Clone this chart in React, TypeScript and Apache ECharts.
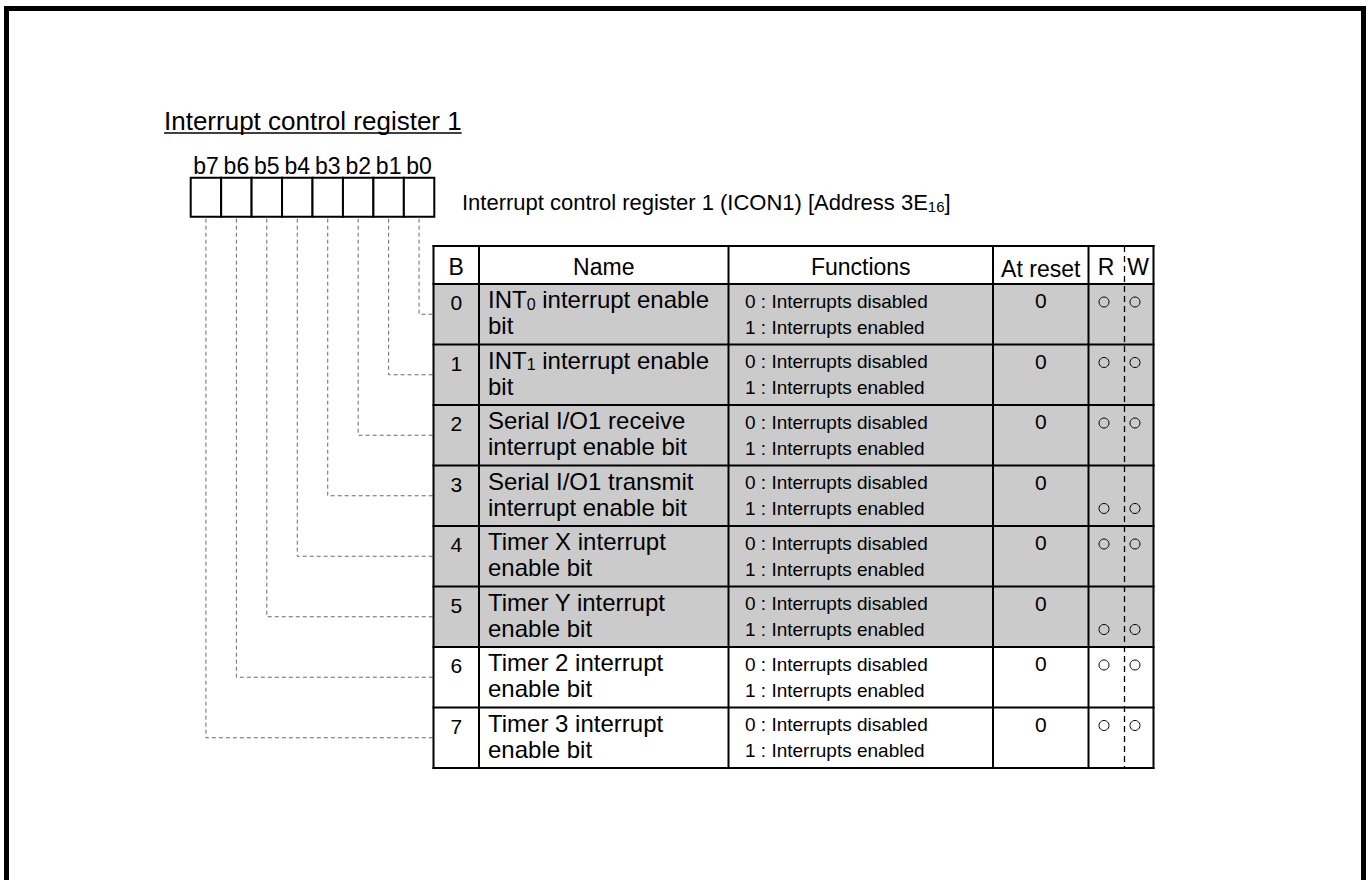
import React, { useEffect, useRef } from "react";
import * as echarts from "echarts";

// ---------- data ----------
const titleText = "Interrupt control register 1";
const registerCaption = "Interrupt control register 1 (ICON1) [Address 3E_{16}]";
const bitLabels = ["b7", "b6", "b5", "b4", "b3", "b2", "b1", "b0"];
const headerLabels = ["B", "Name", "Functions", "At reset", "R", "W"];
const rowBits = ["0", "1", "2", "3", "4", "5", "6", "7"];
const rowNameLine1 = [
  "INT_{0} interrupt enable",
  "INT_{1} interrupt enable",
  "Serial I/O1 receive",
  "Serial I/O1 transmit",
  "Timer X interrupt",
  "Timer Y interrupt",
  "Timer 2 interrupt",
  "Timer 3 interrupt",
];
const rowNameLine2 = [
  "bit",
  "bit",
  "interrupt enable bit",
  "interrupt enable bit",
  "enable bit",
  "enable bit",
  "enable bit",
  "enable bit",
];
const functionLine1 = [
  "0 : Interrupts disabled",
  "0 : Interrupts disabled",
  "0 : Interrupts disabled",
  "0 : Interrupts disabled",
  "0 : Interrupts disabled",
  "0 : Interrupts disabled",
  "0 : Interrupts disabled",
  "0 : Interrupts disabled",
];
const functionLine2 = [
  "1 : Interrupts enabled",
  "1 : Interrupts enabled",
  "1 : Interrupts enabled",
  "1 : Interrupts enabled",
  "1 : Interrupts enabled",
  "1 : Interrupts enabled",
  "1 : Interrupts enabled",
  "1 : Interrupts enabled",
];
const resetValues = ["0", "0", "0", "0", "0", "0", "0", "0"];
const readable = [true, true, true, true, true, true, true, true];
const writable = [true, true, true, true, true, true, true, true];
const shadedRows = [true, true, true, true, true, true, false, false];
const rwMarkLine = [1, 1, 1, 2, 1, 2, 1, 1];

// ---------- layout ----------
const FONT = "Arial, Liberation Sans, Helvetica, sans-serif";
const TITLE_X = 164;
const TITLE_BASE = 130;
const TITLE_FS = 26;
const BOX_LEFT = 190.7;
const BOX_TOP = 177.7;
const BOX_W = 30.45;
const BOX_H = 39;
const BIT_BASE = 174;
const BIT_FS = 23;
const CAP_X = 462;
const CAP_BASE = 210;
const CAP_FS = 22;
const COLS = [433.5, 479, 728.5, 993, 1088.5, 1153.5];
const RW_DIV = 1124.5;
const T_TOP = 246;
const H_BOTTOM = 284;
const ROW_H = 60.5;
const HEAD_FS = 23;
const NAME_FS = 24;
const FUNC_FS = 19;
const DIGIT_FS = 21;
const SHADE = "#cbcbcb";

let measureCtx: CanvasRenderingContext2D | null = null;
function measure(text: string, fs: number) {
  if (!measureCtx) measureCtx = document.createElement("canvas").getContext("2d");
  measureCtx!.font = `${fs}px ${FONT}`;
  return measureCtx!.measureText(text).width;
}

function parseSegs(s: string) {
  const out: { t: string; sub: boolean }[] = [];
  const re = /_\{([^}]*)\}/g;
  let last = 0;
  let m: RegExpExecArray | null;
  while ((m = re.exec(s))) {
    if (m.index > last) out.push({ t: s.slice(last, m.index), sub: false });
    out.push({ t: m[1], sub: true });
    last = re.lastIndex;
  }
  if (last < s.length) out.push({ t: s.slice(last), sub: false });
  return out;
}

function textLine(
  els: any[],
  s: string,
  x: number,
  baseline: number,
  fs: number,
  align: "left" | "center",
  scaleX = 1
) {
  const segs = parseSegs(s);
  const subFs = Math.round(fs * 0.66);
  const widths = segs.map((g) => measure(g.t, g.sub ? subFs : fs) * scaleX);
  const total = widths.reduce((a, b) => a + b, 0);
  let cx = align === "center" ? x - total / 2 : x;
  segs.forEach((g, i) => {
    const f = g.sub ? subFs : fs;
    const b = g.sub ? baseline + fs * 0.07 : baseline;
    els.push({
      type: "text",
      x: cx,
      y: b - 0.3465 * f,
      scaleX,
      silent: true,
      style: {
        text: g.t,
        fontSize: f,
        fontFamily: FONT,
        fill: "#000",
        textAlign: "left",
        align: "left",
        textVerticalAlign: "middle",
        verticalAlign: "middle",
      },
    });
    cx += widths[i];
  });
  return total;
}

function buildGraphics() {
  const els: any[] = [];
  // outer frame
  els.push({
    type: "rect",
    shape: { x: 6.5, y: 8.5, width: 1357, height: 1000 },
    style: { fill: "none", stroke: "#000", lineWidth: 5 },
    silent: true,
  });
  // title + underline
  const tw = textLine(els, titleText, TITLE_X, TITLE_BASE, TITLE_FS, "left");
  els.push({
    type: "line",
    shape: { x1: TITLE_X, y1: TITLE_BASE + 3, x2: TITLE_X + tw, y2: TITLE_BASE + 3 },
    style: { stroke: "#000", lineWidth: 1.5 },
    silent: true,
  });
  // bit boxes + labels
  bitLabels.forEach((lab, k) => {
    const x = BOX_LEFT + k * BOX_W;
    textLine(els, lab, x + BOX_W / 2, BIT_BASE, BIT_FS, "center");
    els.push({
      type: "rect",
      shape: { x, y: BOX_TOP, width: BOX_W, height: BOX_H },
      style: { fill: "#fff", stroke: "#000", lineWidth: 2 },
      silent: true,
    });
  });
  // caption
  textLine(els, registerCaption, CAP_X, CAP_BASE, CAP_FS, "left");

  const rowTop = (i: number) => H_BOTTOM + ROW_H * i;
  const tBottom = rowTop(rowBits.length);

  // leader lines
  bitLabels.forEach((lab, k) => {
    const bit = parseInt(lab.slice(1), 10);
    const x = BOX_LEFT + k * BOX_W + BOX_W / 2;
    const y = rowTop(bit) + ROW_H / 2;
    els.push({
      type: "polyline",
      shape: { points: [[x, BOX_TOP + BOX_H + 2], [x, y], [COLS[0], y]] },
      style: { fill: "none", stroke: "#6a6a6a", lineWidth: 1, lineDash: [4, 3] },
      silent: true,
    });
  });

  // row fills
  rowBits.forEach((_, i) => {
    if (shadedRows[i]) {
      els.push({
        type: "rect",
        shape: { x: COLS[0], y: rowTop(i), width: COLS[COLS.length - 1] - COLS[0], height: ROW_H },
        style: { fill: SHADE },
        silent: true,
      });
    }
  });

  // grid lines
  const hl = [T_TOP, H_BOTTOM];
  for (let i = 1; i <= rowBits.length; i++) hl.push(rowTop(i));
  hl.forEach((y) =>
    els.push({
      type: "line",
      shape: { x1: COLS[0] - 1, y1: y, x2: COLS[COLS.length - 1] + 1, y2: y },
      style: { stroke: "#000", lineWidth: 2 },
      silent: true,
    })
  );
  COLS.forEach((x) =>
    els.push({
      type: "line",
      shape: { x1: x, y1: T_TOP - 1, x2: x, y2: tBottom + 1 },
      style: { stroke: "#000", lineWidth: 2 },
      silent: true,
    })
  );
  els.push({
    type: "line",
    shape: { x1: RW_DIV, y1: T_TOP, x2: RW_DIV, y2: tBottom },
    style: { stroke: "#000", lineWidth: 1.3, lineDash: [6, 4] },
    silent: true,
  });

  // header
  const headBase = T_TOP + 29;
  const headCenters = [
    (COLS[0] + COLS[1]) / 2,
    (COLS[1] + COLS[2]) / 2,
    (COLS[2] + COLS[3]) / 2,
    (COLS[3] + COLS[4]) / 2,
    1106,
    1138,
  ];
  headerLabels.forEach((h, j) => textLine(els, h, headCenters[j], headBase + (j === 3 ? 1.5 : 0), HEAD_FS, "center"));

  // rows
  rowBits.forEach((b, i) => {
    const top = rowTop(i);
    const l1 = top + 24;
    const l2 = top + 50;
    textLine(els, b, headCenters[0], l1 + 2, DIGIT_FS, "center");
    textLine(els, rowNameLine1[i], 488, l1, NAME_FS, "left");
    textLine(els, rowNameLine2[i], 488, l2, NAME_FS, "left");
    textLine(els, functionLine1[i], 745, l1, FUNC_FS, "left");
    textLine(els, functionLine2[i], 745, l2, FUNC_FS, "left");
    textLine(els, resetValues[i], headCenters[3], l1, DIGIT_FS, "center");
    const cy = rwMarkLine[i] === 2 ? top + 43 : top + 18;
    if (readable[i])
      els.push({
        type: "circle",
        shape: { cx: 1104, cy, r: 5 },
        style: { fill: "none", stroke: "#000", lineWidth: 1 },
        silent: true,
      });
    if (writable[i])
      els.push({
        type: "circle",
        shape: { cx: 1135, cy, r: 5 },
        style: { fill: "none", stroke: "#000", lineWidth: 1 },
        silent: true,
      });
  });
  return els;
}

export default function App() {
  const ref = useRef<HTMLDivElement>(null);
  useEffect(() => {
    if (!ref.current) return;
    const chart = echarts.init(ref.current, null, { renderer: "svg" });
    chart.setOption({
      animation: false,
      backgroundColor: "#fff",
      graphic: { elements: buildGraphics() },
    });
    return () => chart.dispose();
  }, []);
  return (
    <div
      ref={ref}
      style={{ position: "fixed", left: 0, top: 0, width: 1370, height: 880, background: "#fff" }}
    />
  );
}
